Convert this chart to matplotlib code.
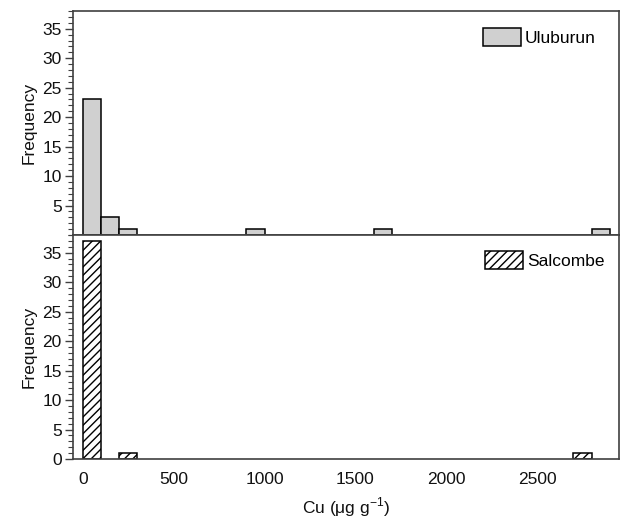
import numpy as np
import matplotlib
matplotlib.use('Agg')
import matplotlib.pyplot as plt
from matplotlib.ticker import MultipleLocator, FixedLocator

plt.rcParams['font.family'] = ['Liberation Sans', 'DejaVu Sans']
plt.rcParams['hatch.linewidth'] = 1.0

# histogram data: left edge of bin (ug/g) and counts, bin width 100
bin_width = 100
uluburun_left = [0, 100, 200, 900, 1600, 2800]
uluburun_count = [23, 3, 1, 1, 1, 1]
salcombe_left = [0, 200, 2700]
salcombe_count = [37, 1, 1]

xticks = [0, 500, 1000, 1500, 2000, 2500]
edge = '#404040'
fs = 12.5

fig = plt.figure(figsize=(6.27, 5.18), dpi=100)
ax1 = fig.add_axes([0.1164, 0.5463, 0.8706, 0.4324])
ax2 = fig.add_axes([0.1164, 0.1139, 0.8706, 0.4324], sharex=ax1)

ax1.bar(uluburun_left, uluburun_count, width=bin_width, align='edge',
        color='#d0d0d0', edgecolor='black', linewidth=1.1, label='Uluburun')
ax2.bar(salcombe_left, salcombe_count, width=bin_width, align='edge',
        color='white', edgecolor='black', linewidth=1.1, hatch='////', label='Salcombe')

for ax in (ax1, ax2):
    ax.set_ylim(0, 38)
    ax.set_xlim(-55, 2950)
    ax.yaxis.set_minor_locator(MultipleLocator(1))
    ax.tick_params(axis='y', which='major', direction='out', length=6, width=1, colors=edge,
                   labelcolor='#111111', labelsize=fs, pad=2)
    ax.tick_params(axis='y', which='minor', direction='out', length=3.5, width=0.8, colors=edge)
    for s in ax.spines.values():
        s.set_color(edge)
        s.set_linewidth(1.2)
    ax.set_ylabel('Frequency', fontsize=fs, labelpad=4, color='#111111')

ax1.legend(loc='upper right', frameon=False, fontsize=fs, handlelength=2.2,
           handleheight=1.25, handletextpad=0.25, borderpad=0, borderaxespad=0,
           bbox_to_anchor=(0.958, 0.925))
ax2.legend(loc='upper right', frameon=False, fontsize=fs, handlelength=2.2,
           handleheight=1.25, handletextpad=0.25, borderpad=0, borderaxespad=0,
           bbox_to_anchor=(0.974, 0.93))

ax1.yaxis.set_major_locator(FixedLocator([5, 10, 15, 20, 25, 30, 35]))
ax2.yaxis.set_major_locator(FixedLocator([0, 5, 10, 15, 20, 25, 30, 35]))
ax1.tick_params(axis='x', which='both', bottom=False, labelbottom=False)
ax2.set_xticks(xticks)
ax2.tick_params(axis='x', which='both', bottom=False, labelsize=fs, pad=6, labelcolor='#111111')
ax2.set_xlabel('Cu ($\\mathregular{\\mu}$g g$^{\\mathregular{-1}}$)', fontsize=fs,
               labelpad=6, color='#111111')

fig.savefig('out.png', dpi=100)
